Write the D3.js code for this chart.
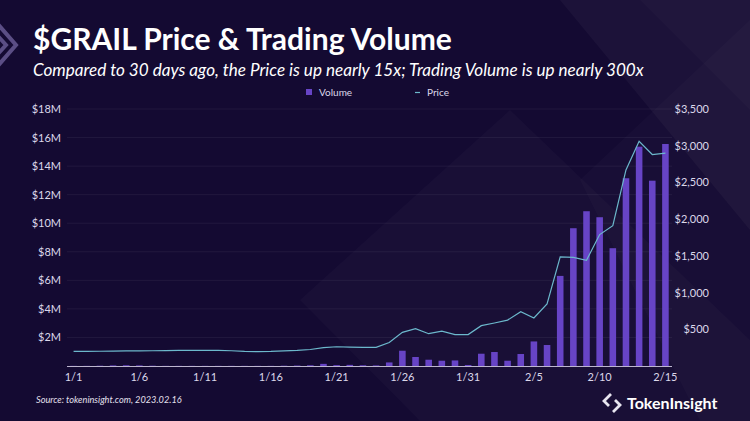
<!DOCTYPE html>
<html><head><meta charset="utf-8">
<script src="https://cdn.jsdelivr.net/npm/d3@7"></script>
<style>
html,body{margin:0;padding:0;background:#140a32;}
svg{display:block;}
text{font-family:Lato,"Open Sans",sans-serif;}
</style></head>
<body><svg id="c" width="750" height="421"></svg>
<script>
const categories = ["1/1","1/2","1/3","1/4","1/5","1/6","1/7","1/8","1/9","1/10","1/11","1/12","1/13","1/14","1/15","1/16","1/17","1/18","1/19","1/20","1/21","1/22","1/23","1/24","1/25","1/26","1/27","1/28","1/29","1/30","1/31","2/1","2/2","2/3","2/4","2/5","2/6","2/7","2/8","2/9","2/10","2/11","2/12","2/13","2/14","2/15"];
// Trading volume, $M
const volume = [0.01,0.01,0.02,0.04,0.05,0.04,0.02,0.01,0.01,0.01,0.01,0.01,0.01,0.01,0.01,0.01,0.02,0.03,0.05,0.15,0.06,0.08,0.05,0.04,0.25,1.07,0.63,0.44,0.37,0.39,0.07,0.86,0.98,0.37,0.84,1.72,1.47,6.31,9.65,10.84,10.42,8.25,13.15,15.36,12.98,15.55];
// Price, $
const price = [200,200,201,203,205,207,208,210,212,213,214,212,208,198,195,198,205,212,225,250,262,258,255,255,320,458,508,440,475,428,428,549,586,625,740,654,845,1485,1480,1440,1790,1910,2670,3060,2880,2900];
const volTicks = [2,4,6,8,10,12,14,16,18];
const priceTicks = [500,1000,1500,2000,2500,3000,3500];
const xTickLabels = ["1/1","1/6","1/11","1/16","1/21","1/26","1/31","2/5","2/10","2/15"];

const svg = d3.select("#c");
// background
svg.append("rect").attr("width",750).attr("height",421).attr("fill","#140a32");
const deco = svg.append("g");
deco.append("path").attr("d","M300,300 L510,110 L750,340 L750,421 L420,421 Z").attr("fill","#ffffff").attr("opacity",0.025);
deco.append("path").attr("d","M560,0 L750,0 L750,230 Z").attr("fill","#ffffff").attr("opacity",0.035);
deco.append("path").attr("d","M640,0 L750,0 L750,110 Z").attr("fill","#ffffff").attr("opacity",0.02);
deco.append("path").attr("d","M580,180 L750,20 L750,421 L700,421 Z").attr("fill","#ffffff").attr("opacity",0.02);
// top-left chevrons
const tl = svg.append("g").attr("fill","none").attr("stroke","#6d5f9a").attr("stroke-width",4).attr("opacity",0.8);
tl.append("path").attr("d","M-4,22 L16,45 L-4,68");
tl.append("path").attr("d","M-4,34 L6,45 L-4,56");

const x = d3.scaleBand().domain(categories).range([67,672]).paddingInner(0.5).paddingOuter(0.25);
const yL = d3.scaleLinear().domain([0,18]).range([366,109]);
const yR = d3.scaleLinear().domain([0,3500]).range([366,109]);

// gridlines
svg.append("g").selectAll("line").data(volTicks).join("line")
  .attr("x1",67).attr("x2",672).attr("y1",d=>yL(d)).attr("y2",d=>yL(d))
  .attr("stroke","#ffffff").attr("stroke-opacity",0.06);

// bars
svg.append("g").selectAll("rect").data(volume).join("rect")
  .attr("x",(d,i)=>x(categories[i])).attr("width",x.bandwidth())
  .attr("y",d=>yL(d)).attr("height",d=>yL(0)-yL(d)).attr("fill","#6744c6");

// line
const line = d3.line().x((d,i)=>x(categories[i])+x.bandwidth()/2).y(d=>yR(d));
svg.append("path").datum(price).attr("d",line).attr("fill","none").attr("stroke","#6cb8cc").attr("stroke-width",1.2);

// axes
const axL = svg.append("g").attr("transform","translate(67,0)")
  .call(d3.axisLeft(yL).tickValues(volTicks).tickFormat(d=>"$"+d+"M").tickSize(0).tickPadding(6));
const axR = svg.append("g").attr("transform","translate(709,0)")
  .call(d3.axisLeft(yR).tickValues(priceTicks).tickFormat(d=>"$"+d3.format(",")(d)).tickSize(0).tickPadding(0));
const axB = svg.append("g").attr("transform","translate(0,366)")
  .call(d3.axisBottom(x).tickValues(xTickLabels).tickSize(0).tickPadding(7));
[axL,axR,axB].forEach(a=>{
  a.select(".domain").remove();
  a.selectAll("text").attr("fill","#dcd8ea").attr("font-size",11).attr("font-family","Lato");
});
svg.append("line").attr("x1",67).attr("x2",672).attr("y1",366.5).attr("y2",366.5).attr("stroke","#bdb6cf").attr("stroke-width",1.2);

// titles
svg.append("text").attr("x",33).attr("y",50).attr("fill","#ffffff").attr("font-size",30).attr("font-weight",700).text("$GRAIL Price & Trading Volume");
svg.append("text").attr("x",33).attr("y",76).attr("fill","#ffffff").attr("font-size",17.1).attr("font-style","italic").text("Compared to 30 days ago, the Price is up nearly 15x; Trading Volume is up nearly 300x");

// legend
svg.append("rect").attr("x",306).attr("y",89).attr("width",6).attr("height",6).attr("fill","#6744c6");
svg.append("text").attr("x",319).attr("y",95.5).attr("fill","#dcd8ea").attr("font-size",10).text("Volume");
svg.append("line").attr("x1",415).attr("x2",420).attr("y1",92.5).attr("y2",92.5).attr("stroke","#6cb8cc").attr("stroke-width",1.2);
svg.append("text").attr("x",427).attr("y",95.5).attr("fill","#dcd8ea").attr("font-size",10).text("Price");

// source
svg.append("text").attr("x",36).attr("y",403).attr("fill","#e4e0ee").attr("font-size",9.2).attr("font-style","italic").text("Source: tokeninsight.com, 2023.02.16");

// logo
const lg = svg.append("g").attr("transform","translate(612,403)").attr("fill","none").attr("stroke","#e8e6f0").attr("stroke-width",2.8);
lg.append("path").attr("d","M-1,-9 L-8,-2 L-3,3");
lg.append("path").attr("d","M1,9 L8,2 L3,-3");
svg.append("text").attr("x",627).attr("y",409).attr("fill","#ffffff").attr("font-size",16).attr("font-weight",700).attr("font-family","Open Sans").text("TokenInsight");
</script></body></html>
